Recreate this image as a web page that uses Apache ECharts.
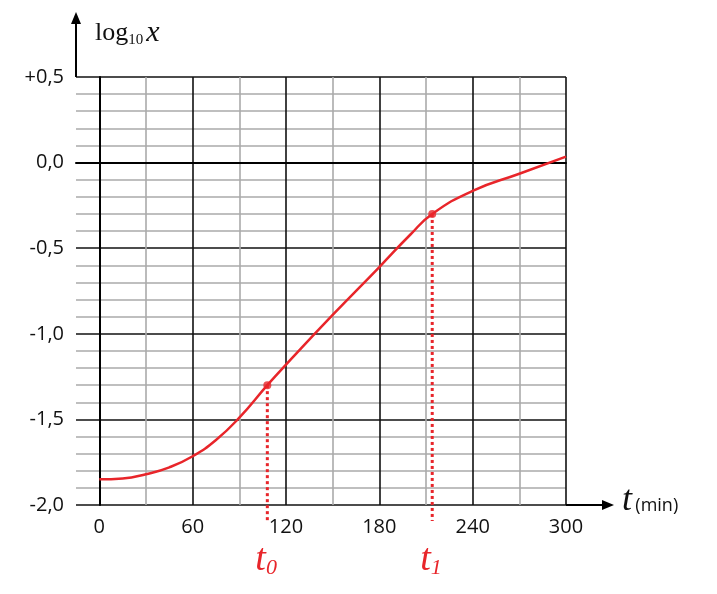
<!DOCTYPE html><html><head><meta charset="utf-8"><script src="https://cdn.jsdelivr.net/npm/echarts@6/dist/echarts.min.js"></script></head><body style="margin:0;background:#fff"><div id="c" style="width:717px;height:594px"></div><script>
const tVals=[0,15,30,45,60,75,90,108,120,150,180,200,214,240,270,300];
const logVals=[-1.85,-1.845,-1.82,-1.78,-1.715,-1.62,-1.49,-1.3,-1.18,-0.89,-0.61,-0.42,-0.3,-0.165,-0.065,0.035];
const markT=[108,214];const markY=[-1.3,-0.3];const markLabels=['0','1'];
const xLabels=[0,60,120,180,240,300];
const ch=echarts.init(document.getElementById('c'));
const red='#e8252a';
const G={left:76,right:151,top:77,bottom:89};
ch.setOption({animation:false,
grid:G,
xAxis:{type:'value',min:-15,max:300,interval:15,
 axisLine:{lineStyle:{color:'#000',width:2}},axisTick:{show:false},
 axisLabel:{formatter:v=>xLabels.includes(v)?String(v):'',color:'#111',fontSize:20,fontFamily:'Open Sans',margin:12,showMinLabel:true,showMaxLabel:true},
 splitLine:{show:true,lineStyle:{color:['rgba(0,0,0,0)','#111','rgba(0,0,0,0)','#aaa'],width:1.6}}},
yAxis:{type:'value',min:-2,max:0.5,interval:0.1,
 axisLine:{show:true,lineStyle:{color:'#000',width:2}},axisTick:{show:false},
 axisLabel:{formatter:v=>{const r=Math.round(v*10);if(r%5)return'';if(r===5)return'+0,5';return (r/10).toFixed(1).replace('.',',');},color:'#111',fontSize:20,fontFamily:'Open Sans',margin:12},
 splitLine:{show:true,lineStyle:{color:['#111','#aaa','#aaa','#aaa','#aaa'],width:1.6}}},
series:[{type:'line',smooth:0.5,symbol:'none',data:tVals.map((t,i)=>[t,logVals[i]]),lineStyle:{color:red,width:2.5},z:5},
 {type:'scatter',symbolSize:8,itemStyle:{color:red},data:markT.map((t,i)=>[t,markY[i]]),z:6}]
});
const g=[];
const px=ch.convertToPixel({gridIndex:0},[-15,0.5]);const pe=ch.convertToPixel({gridIndex:0},[300,-2]);
g.push({type:'line',shape:{x1:px[0],y1:px[1],x2:px[0],y2:22},style:{stroke:'#000',lineWidth:2}});
g.push({type:'polygon',shape:{points:[[px[0]-5,24],[px[0]+5,24],[px[0],12]]},style:{fill:'#000'}});
g.push({type:'line',shape:{x1:pe[0],y1:pe[1],x2:604,y2:pe[1]},style:{stroke:'#000',lineWidth:2}});
g.push({type:'polygon',shape:{points:[[602,pe[1]-5],[602,pe[1]+5],[614,pe[1]]]},style:{fill:'#000'}});
g.push({type:'text',x:95,y:18,style:{text:'{a|log}{s|10}{b|x}',rich:{a:{fontSize:26,fontFamily:'Liberation Serif',fill:'#111'},s:{fontSize:15,fontFamily:'Liberation Serif',fill:'#111',padding:[14,3,0,0]},b:{fontSize:30,fontFamily:'Liberation Serif',fontStyle:'italic',fill:'#111'}}}});
g.push({type:'text',x:622,y:pe[1]-22,style:{text:'{t|t} {m|(min)}',rich:{t:{fontSize:36,fontFamily:'Liberation Serif',fontStyle:'italic',fill:'#111'},m:{fontSize:18,fontFamily:'Open Sans',fill:'#111',padding:[10,0,0,0]}}}});
markT.forEach((t,i)=>{const p=ch.convertToPixel({gridIndex:0},[t,markY[i]]);
 g.push({type:'line',z:4,shape:{x1:p[0],y1:p[1],x2:p[0],y2:pe[1]+16},style:{stroke:red,lineWidth:3,lineDash:[3,3]}});
 g.push({type:'text',x:p[0]-12,y:pe[1]+36,style:{text:'{t|t}{s|'+markLabels[i]+'}',rich:{t:{fontSize:38,fontFamily:'Liberation Serif',fontStyle:'italic',fill:red},s:{fontSize:22,fontFamily:'Liberation Serif',fontStyle:'italic',fill:red,padding:[16,0,0,0]}}}});});
ch.setOption({graphic:g});
</script></body></html>
